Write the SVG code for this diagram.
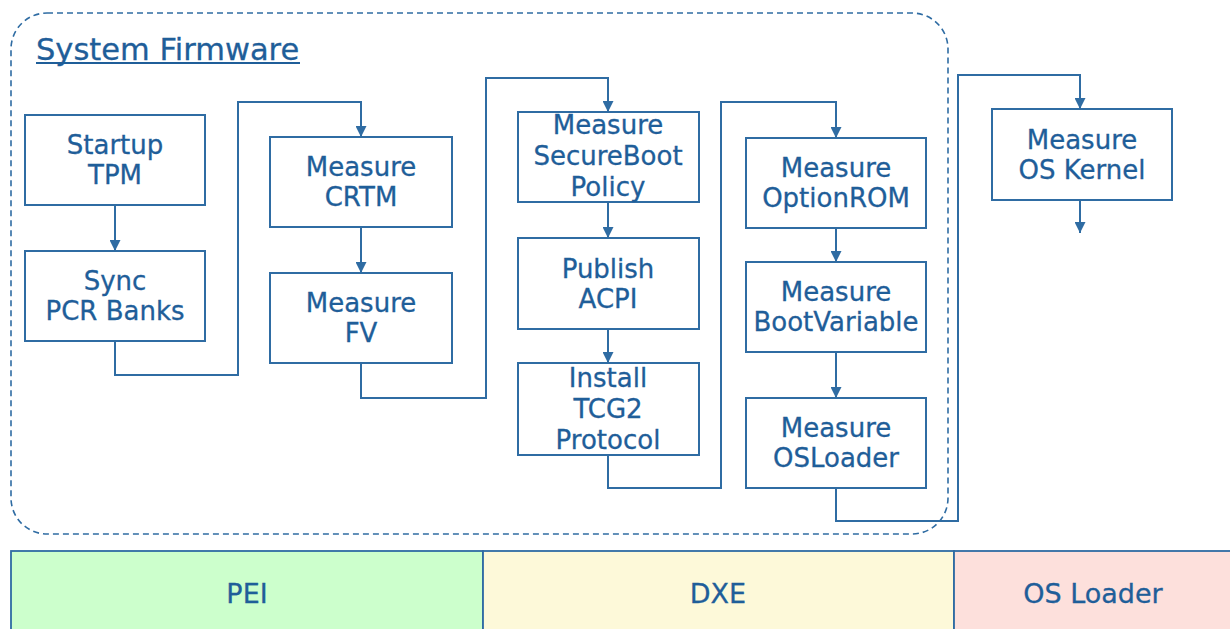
<svg xmlns="http://www.w3.org/2000/svg" width="1230" height="629" viewBox="0 0 1230 629">
<style>
.box{fill:#ffffff;stroke:#2f6ca3;stroke-width:2}
.t{font-family:"DejaVu Sans",Verdana,sans-serif;font-size:26px;fill:#1f5e99;stroke:#1f5e99;stroke-width:0.3;text-anchor:middle}
.bt{font-family:"DejaVu Sans",Verdana,sans-serif;font-size:27px;fill:#1f5e99;stroke:#1f5e99;stroke-width:0.3;text-anchor:middle}
.c{fill:none;stroke:#2f6ca3;stroke-width:2}
.bar{stroke:#2f6ca3;stroke-width:1.8}
</style>
<defs>
<marker id="ah" viewBox="0 0 10 10" refX="10" refY="5" markerWidth="11" markerHeight="11" markerUnits="userSpaceOnUse" orient="auto">
<path d="M0,0 L10,5 L0,10 Z" fill="#2f6ca3"/>
</marker>
</defs>
<rect width="1230" height="629" fill="#ffffff"/>
<g id="system-firmware">
<rect x="11" y="13" width="937" height="521" rx="36" ry="36" fill="none" stroke="#2f6ca3" stroke-width="1.6" stroke-dasharray="6,4"/>
<text x="36" y="60" font-family="DejaVu Sans,Verdana,sans-serif" font-size="30.5px" fill="#1f5e99" stroke="#1f5e99" stroke-width="0.3">System Firmware</text>
<line x1="36" y1="63" x2="300" y2="63" stroke="#1f5e99" stroke-width="1.8"/>
</g>
<g id="phases">
<rect class="bar" x="11" y="551" width="472" height="80" fill="#ccffcc"/>
<rect class="bar" x="483" y="551" width="471" height="80" fill="#fdf9d9"/>
<rect class="bar" x="954" y="551" width="280" height="80" fill="#fde0dc"/>
<text class="bt" x="247" y="603">PEI</text>
<text class="bt" x="718" y="603">DXE</text>
<text class="bt" x="1093" y="603">OS Loader</text>
</g>
<g id="connectors">
<path class="c" d="M115,205 V251" marker-end="url(#ah)"/>
<path class="c" d="M115,341 V375 H238 V102 H361 V137" marker-end="url(#ah)"/>
<path class="c" d="M361,227 V273" marker-end="url(#ah)"/>
<path class="c" d="M361,363 V398 H486 V78 H608 V112" marker-end="url(#ah)"/>
<path class="c" d="M608,202 V238" marker-end="url(#ah)"/>
<path class="c" d="M608,329 V363" marker-end="url(#ah)"/>
<path class="c" d="M608,455 V488 H721 V102 H836 V138" marker-end="url(#ah)"/>
<path class="c" d="M836,228 V262" marker-end="url(#ah)"/>
<path class="c" d="M836,352 V398" marker-end="url(#ah)"/>
<path class="c" d="M836,488 V521 H958 V75 H1080 V109" marker-end="url(#ah)"/>
<path class="c" d="M1080,200 V233" marker-end="url(#ah)"/>
</g>
<g id="startup-tpm">
<rect class="box" x="25" y="115" width="180" height="90"/>
<text class="t" x="115" y="154">Startup</text>
<text class="t" x="115" y="184">TPM</text>
</g>
<g id="sync-pcr-banks">
<rect class="box" x="25" y="251" width="180" height="90"/>
<text class="t" x="115" y="290">Sync</text>
<text class="t" x="115" y="320">PCR Banks</text>
</g>
<g id="measure-crtm">
<rect class="box" x="270" y="137" width="182" height="90"/>
<text class="t" x="361" y="176">Measure</text>
<text class="t" x="361" y="206">CRTM</text>
</g>
<g id="measure-fv">
<rect class="box" x="270" y="273" width="182" height="90"/>
<text class="t" x="361" y="312">Measure</text>
<text class="t" x="361" y="342">FV</text>
</g>
<g id="measure-secureboot-policy">
<rect class="box" x="518" y="112" width="181" height="90"/>
<text class="t" x="608" y="134">Measure</text>
<text class="t" x="608" y="165">SecureBoot</text>
<text class="t" x="608" y="196">Policy</text>
</g>
<g id="publish-acpi">
<rect class="box" x="518" y="238" width="181" height="91"/>
<text class="t" x="608" y="278">Publish</text>
<text class="t" x="608" y="308">ACPI</text>
</g>
<g id="install-tcg2-protocol">
<rect class="box" x="518" y="363" width="181" height="92"/>
<text class="t" x="608" y="387">Install</text>
<text class="t" x="608" y="418">TCG2</text>
<text class="t" x="608" y="449">Protocol</text>
</g>
<g id="measure-optionrom">
<rect class="box" x="746" y="138" width="180" height="90"/>
<text class="t" x="836" y="177">Measure</text>
<text class="t" x="836" y="207">OptionROM</text>
</g>
<g id="measure-bootvariable">
<rect class="box" x="746" y="262" width="180" height="90"/>
<text class="t" x="836" y="301">Measure</text>
<text class="t" x="836" y="331">BootVariable</text>
</g>
<g id="measure-osloader">
<rect class="box" x="746" y="398" width="180" height="90"/>
<text class="t" x="836" y="437">Measure</text>
<text class="t" x="836" y="467">OSLoader</text>
</g>
<g id="measure-os-kernel">
<rect class="box" x="992" y="109" width="180" height="91"/>
<text class="t" x="1082" y="149">Measure</text>
<text class="t" x="1082" y="179">OS Kernel</text>
</g>
</svg>
